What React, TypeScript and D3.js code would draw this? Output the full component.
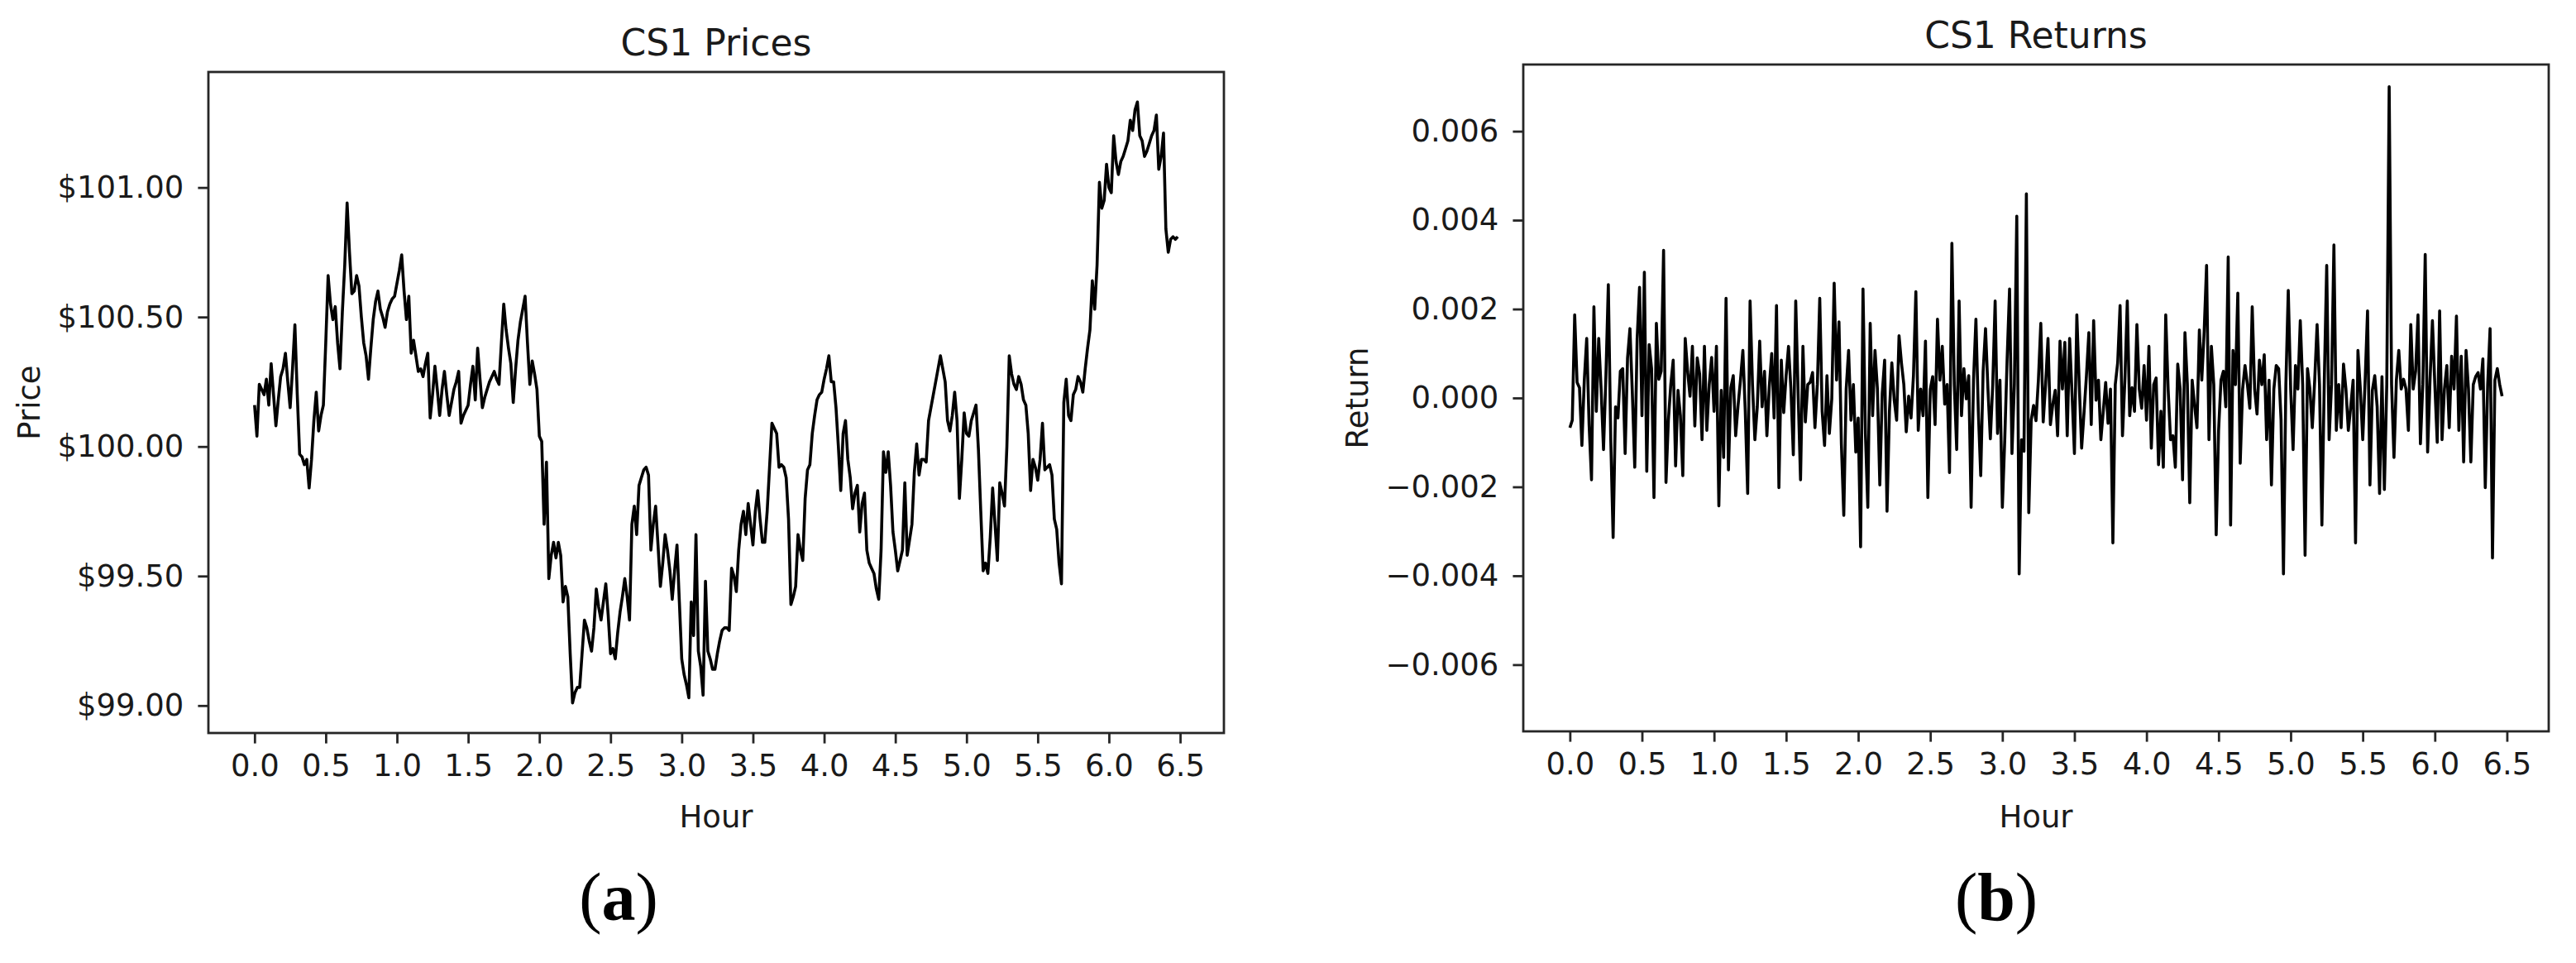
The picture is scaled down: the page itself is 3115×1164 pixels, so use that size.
import React, { useEffect, useRef } from 'react';
import * as d3 from 'd3';

// CS1 price, one reading per minute from the open
const prices = [
  100.16, 100.04, 100.24, 100.22, 100.20, 100.26, 100.16, 100.32, 100.20, 100.08,
  100.18, 100.27, 100.30, 100.36, 100.25, 100.15, 100.30, 100.47, 100.20, 99.97,
  99.96, 99.93, 99.95, 99.84, 99.95, 100.10, 100.21, 100.06, 100.12, 100.16,
  100.40, 100.66, 100.55, 100.49, 100.54, 100.40, 100.30, 100.52, 100.70, 100.94,
  100.75, 100.59, 100.60, 100.66, 100.62, 100.50, 100.40, 100.35, 100.26, 100.38,
  100.49, 100.56, 100.60, 100.53, 100.50, 100.46, 100.52, 100.55, 100.57, 100.58,
  100.63, 100.68, 100.74, 100.60, 100.49, 100.58, 100.36, 100.41, 100.35, 100.29,
  100.30, 100.27, 100.32, 100.36, 100.11, 100.20, 100.31, 100.22, 100.12, 100.22,
  100.29, 100.20, 100.12, 100.17, 100.22, 100.25, 100.29, 100.09, 100.12, 100.14,
  100.16, 100.24, 100.31, 100.18, 100.38, 100.26, 100.15, 100.19, 100.22, 100.25,
  100.27, 100.29, 100.26, 100.24, 100.40, 100.55, 100.45, 100.38, 100.32, 100.17,
  100.30, 100.41, 100.48, 100.53, 100.58, 100.40, 100.24, 100.33, 100.28, 100.22,
  100.04, 100.02, 99.70, 99.94, 99.49, 99.58, 99.63, 99.57, 99.63, 99.58,
  99.40, 99.46, 99.42, 99.20, 99.01, 99.05, 99.07, 99.07, 99.20, 99.33,
  99.30, 99.25, 99.21, 99.30, 99.45, 99.38, 99.33, 99.40, 99.47, 99.35,
  99.20, 99.22, 99.18, 99.28, 99.36, 99.42, 99.49, 99.42, 99.33, 99.70,
  99.77, 99.66, 99.85, 99.88, 99.91, 99.92, 99.89, 99.60, 99.70, 99.77,
  99.62, 99.46, 99.55, 99.66, 99.60, 99.52, 99.41, 99.52, 99.62, 99.40,
  99.18, 99.12, 99.08, 99.03, 99.40, 99.27, 99.66, 99.21, 99.15, 99.04,
  99.48, 99.21, 99.18, 99.14, 99.14, 99.20, 99.25, 99.29, 99.30, 99.30,
  99.29, 99.53, 99.50, 99.44, 99.60, 99.70, 99.75, 99.66, 99.78, 99.70,
  99.62, 99.75, 99.83, 99.72, 99.63, 99.63, 99.75, 99.92, 100.09, 100.07,
  100.05, 99.92, 99.93, 99.92, 99.88, 99.72, 99.39, 99.42, 99.46, 99.66,
  99.60, 99.56, 99.80, 99.91, 99.93, 100.05, 100.12, 100.18, 100.20, 100.21,
  100.26, 100.30, 100.35, 100.25, 100.25, 100.15, 100.00, 99.83, 100.05, 100.10,
  99.95, 99.88, 99.76, 99.82, 99.85, 99.67, 99.78, 99.82, 99.60, 99.55,
  99.53, 99.51, 99.45, 99.41, 99.60, 99.98, 99.90, 99.98, 99.85, 99.67,
  99.60, 99.52, 99.56, 99.60, 99.86, 99.58, 99.64, 99.70, 99.90, 100.01,
  99.89, 99.95, 99.95, 99.94, 100.10, 100.15, 100.20, 100.25, 100.30, 100.35,
  100.30, 100.25, 100.10, 100.06, 100.12, 100.21, 100.10, 99.80, 99.95, 100.13,
  100.05, 100.04, 100.10, 100.13, 100.16, 99.99, 99.75, 99.52, 99.55, 99.51,
  99.65, 99.84, 99.70, 99.56, 99.86, 99.82, 99.77, 100.00, 100.35, 100.28,
  100.24, 100.22, 100.27, 100.24, 100.18, 100.16, 100.05, 99.83, 99.95, 99.92,
  99.87, 99.95, 100.09, 99.91, 99.92, 99.93, 99.89, 99.72, 99.68, 99.55,
  99.47, 100.17, 100.26, 100.12, 100.10, 100.20, 100.22, 100.27, 100.25, 100.21,
  100.30, 100.38, 100.45, 100.64, 100.53, 100.70, 101.02, 100.92, 100.95, 101.09,
  101.00, 100.98, 101.20, 101.10, 101.05, 101.10, 101.12, 101.15, 101.18, 101.26,
  101.22, 101.30, 101.33, 101.20, 101.18, 101.12, 101.14, 101.17, 101.20, 101.22,
  101.28, 101.07, 101.12, 101.21, 100.84, 100.75, 100.80, 100.81, 100.80, 100.81,
];

// CS1 one-minute returns, in thousandths
const returnsPermille = [
  -0.67, -0.5, 1.87, 0.35, 0.23, -1.07, 0.4, 1.34, -0.6, -1.84,
  2.05, -0.3, 1.34, 0.2, -1.16, 0.5, 2.55, -0.9, -3.14, -0.2,
  -0.45, 0.6, 0.66, -1.25, 0.9, 1.56, 0.1, -1.56, 1.34, 2.49,
  -0.4, 2.83, -1.65, 1.2, 0.66, -2.24, 1.68, 0.42, 0.6, 3.32,
  -1.9, -0.5, 0.3, 0.85, -1.53, 0.17, -0.4, -1.75, 1.34, 0.6,
  0.04, 1.16, -0.63, 0.9, 0.54, -0.94, 1.16, -0.73, 0.3, 0.91,
  -0.3, 1.16, -2.43, 0.17, -1.34, 2.24, -1.62, 0.23, 0.5, -0.85,
  -0.17, 0.4, 1.07, -0.3, -2.15, 2.18, 0.3, -0.94, -0.2, 1.28,
  -0.2, 0.6, -0.85, 0.26, 1.0, -0.45, 2.08, -2.02, 0.85, -0.33,
  0.5, 1.16, 0.2, -1.28, 2.18, 0.1, -1.84, 1.16, -0.54, 0.3,
  0.35, 0.57, -0.67, 0.3, 2.24, -0.3, -1.07, 0.5, -0.8, -0.02,
  2.58, 0.4, 1.71, -1.03, -2.64, 0.2, 1.07, -0.5, 0.3, -1.22,
  -0.45, -3.35, 2.45, -0.8, -2.46, 1.68, -0.4, 1.07, 0.2, -1.96,
  0.1, 0.85, -2.55, -0.3, 0.79, -0.05, -0.5, 1.4, 0.79, 0.3,
  -0.76, 0.04, -0.45, 0.5, 2.39, -0.73, 0.2, -0.4, 1.28, -2.24,
  0.2, 0.48, -0.6, 1.77, 0.4, 1.16, -0.14, 0.3, -1.68, 3.48,
  0.3, -1.16, 2.18, -0.4, 0.66, -0.02, 0.5, -2.46, 0.4, 1.77,
  -0.3, -1.75, 0.6, 1.56, 0.2, -0.92, 0.3, 2.18, -0.8, 0.4,
  -2.46, -0.94, 0.9, 2.45, -1.25, 0.3, 4.09, -3.96, -0.94, -1.2,
  4.59, -2.58, -0.5, -0.17, -0.51, 0.4, 1.68, -0.54, 0.3, 1.34,
  -0.6, -0.14, 0.17, -0.85, 1.28, 0.2, 1.25, -0.85, 1.34, 0.1,
  -1.25, 1.87, 0.3, -1.13, -0.33, 0.5, 1.47, -0.6, 1.74, -0.05,
  0.4, -0.94, -0.3, 0.35, -0.57, 0.2, -3.26, 0.3, 0.79, 2.08,
  -0.85, 0.4, 2.18, -0.4, 0.23, -0.3, 1.65, 0.2, -0.23, 0.73,
  -0.5, 1.16, -1.13, 0.3, 0.45, -1.5, -0.3, -1.56, 1.87, 0.2,
  -0.94, -0.85, -1.56, 0.76, 0.2, -1.84, 1.47, 0.3, -2.36, 0.4,
  -0.17, -0.67, 1.53, 0.4, 1.5, 2.98, -0.94, 1.16, 0.3, -3.08,
  -0.73, 0.4, 0.6, -0.2, 3.17, -2.86, 1.07, 0.3, 2.36, -1.47,
  0.2, 0.73, 0.3, -0.23, 2.05, 0.2, -0.36, 0.85, 0.3, 0.97,
  -0.94, 0.4, -1.96, 0.2, 0.73, 0.66, -0.5, -3.96, 0.3, 2.42,
  0.2, -1.16, 0.73, 0.2, 1.74, 0.3, -3.54, 0.66, 0.2, -0.67,
  0.4, 1.65, 0.3, -2.86, 0.4, 2.98, -0.94, 0.3, 3.44, -0.73,
  0.3, -0.67, 0.76, 0.2, -0.73, -0.2, 0.4, -3.26, 1.07, 0.2,
  -0.94, 0.4, 1.96, -1.96, 0.17, 0.5, -0.2, -2.15, 0.48, -2.06,
  0.3, 7.0, 0.3, -1.34, 0.4, 1.07, 0.2, 0.42, 0.2, -0.73,
  1.65, 0.2, 0.6, 1.87, -1.03, 0.3, 3.23, -1.22, 0.4, 1.74,
  0.3, -1.0, 1.96, -0.94, 0.2, 0.73, -0.67, 0.94, 0.2, 1.84,
  -0.73, 0.94, -1.44, 1.07, 0.2, -1.44, 0.3, 0.48, 0.57, 0.2,
  0.88, -2.02, 0.3, 1.56, -3.6, 0.4, 0.66, 0.3, 0.04,
];

const hourTicks = [0, 0.5, 1, 1.5, 2, 2.5, 3, 3.5, 4, 4.5, 5, 5.5, 6, 6.5];
const priceTicks = [99, 99.5, 100, 100.5, 101];
const returnTicks = [-0.006, -0.004, -0.002, 0, 0.002, 0.004, 0.006];
const returnLimits = [-0.0075, 0.0075];

const FONT = '"DejaVu Sans", sans-serif';
const INK = '#262626';

function drawPanel(svg, cfg) {
  const { box, values, yDomain, yTicks, yFormat, title, titleY, yLabel, yLabelX } = cfg;

  // one point per minute, plotted in hours
  const hours = values.map((_, i) => i / 60);
  const [h0, h1] = d3.extent(hours);
  const pad = (h1 - h0) * 0.05;

  const x = d3.scaleLinear().domain([h0 - pad, h1 + pad]).range([box.left, box.right]);
  const y = d3.scaleLinear().domain(yDomain).range([box.bottom, box.top]);

  const g = svg.append('g');

  g.append('path')
    .datum(values)
    .attr('fill', 'none')
    .attr('stroke', '#000')
    .attr('stroke-width', 3.6)
    .attr('stroke-linejoin', 'round')
    .attr('d', d3.line().x((d, i) => x(hours[i])).y((d) => y(d)));

  const xAxis = g.append('g')
    .attr('transform', `translate(0,${box.bottom})`)
    .call(d3.axisBottom(x).tickValues(hourTicks).tickFormat(d3.format('.1f')).tickSize(12.6).tickPadding(13));

  const yAxis = g.append('g')
    .attr('transform', `translate(${box.left},0)`)
    .call(d3.axisLeft(y).tickValues(yTicks).tickFormat(yFormat).tickSize(12.6).tickPadding(17));

  [xAxis, yAxis].forEach((a) => {
    a.select('.domain').remove();
    a.selectAll('line').attr('stroke', INK).attr('stroke-width', 2.8);
    a.selectAll('text').attr('font-family', FONT).attr('font-size', 37).attr('fill', '#1a1a1a');
  });

  // frame
  g.append('rect')
    .attr('x', box.left)
    .attr('y', box.top)
    .attr('width', box.right - box.left)
    .attr('height', box.bottom - box.top)
    .attr('fill', 'none')
    .attr('stroke', INK)
    .attr('stroke-width', 2.8);

  const cx = (box.left + box.right) / 2;

  g.append('text')
    .attr('x', cx)
    .attr('y', titleY)
    .attr('text-anchor', 'middle')
    .attr('font-family', FONT)
    .attr('font-size', 44)
    .attr('fill', '#1a1a1a')
    .text(title);

  g.append('text')
    .attr('x', cx)
    .attr('y', 1000)
    .attr('text-anchor', 'middle')
    .attr('font-family', FONT)
    .attr('font-size', 37)
    .attr('fill', '#1a1a1a')
    .text('Hour');

  g.append('text')
    .attr('transform', `translate(${yLabelX},${(box.top + box.bottom) / 2}) rotate(-90)`)
    .attr('dy', '0.35em')
    .attr('text-anchor', 'middle')
    .attr('font-family', FONT)
    .attr('font-size', 37)
    .attr('fill', '#1a1a1a')
    .text(yLabel);
}

function drawCaption(svg, x, letter) {
  const t = svg.append('text')
    .attr('x', x)
    .attr('y', 1112)
    .attr('text-anchor', 'middle')
    .attr('font-family', '"Liberation Serif", "DejaVu Serif", serif')
    .attr('font-size', 82)
    .attr('fill', '#000');
  t.append('tspan').text('(');
  t.append('tspan').attr('font-weight', 'bold').text(letter);
  t.append('tspan').text(')');
}

export default function App() {
  const svgRef = useRef(null);

  useEffect(() => {
    const svg = d3.select(svgRef.current);
    svg.selectAll('*').remove();

    const [pMin, pMax] = d3.extent(prices);
    const pPad = (pMax - pMin) * 0.05;

    drawPanel(svg, {
      box: { left: 252, right: 1480, top: 87, bottom: 886 },
      values: prices,
      yDomain: [pMin - pPad, pMax + pPad],
      yTicks: priceTicks,
      yFormat: (d) => '$' + d3.format('.2f')(d),
      title: 'CS1 Prices',
      titleY: 67,
      yLabel: 'Price',
      yLabelX: 35,
    });

    drawPanel(svg, {
      box: { left: 1842, right: 3082, top: 78, bottom: 884 },
      values: returnsPermille.map((r) => r / 1000),
      yDomain: returnLimits,
      yTicks: returnTicks,
      yFormat: d3.format('.3f'),
      title: 'CS1 Returns',
      titleY: 58,
      yLabel: 'Return',
      yLabelX: 1641,
    });

    drawCaption(svg, 748, 'a');
    drawCaption(svg, 2414, 'b');

    return () => svg.selectAll('*').remove();
  }, []);

  return (
    <svg
      ref={svgRef}
      width={3115}
      height={1164}
      style={{ position: 'absolute', left: 0, top: 0, background: '#fff' }}
    />
  );
}
